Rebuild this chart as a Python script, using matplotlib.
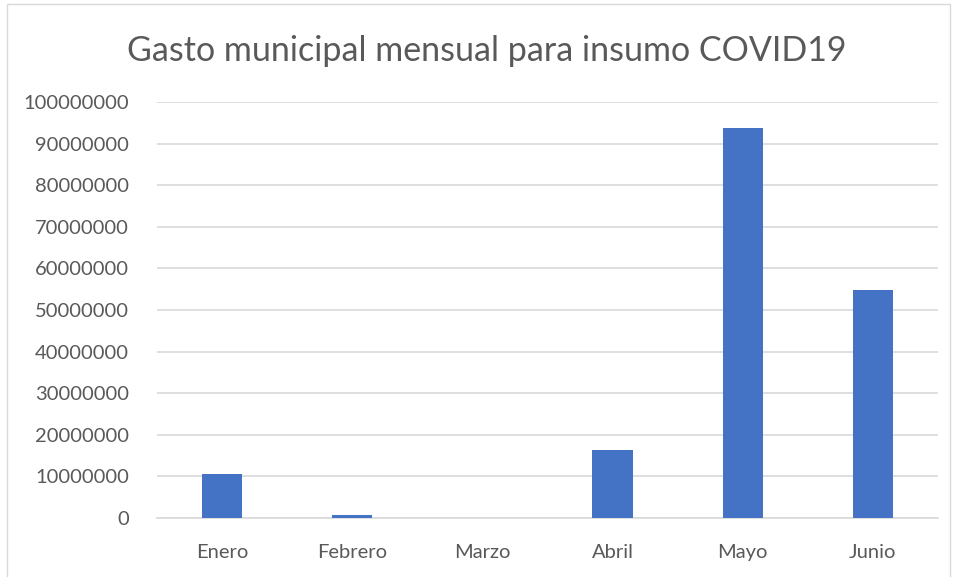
import matplotlib.pyplot as plt
from matplotlib.patches import Rectangle
from matplotlib.ticker import MultipleLocator, FuncFormatter

# data
meses = ['Enero', 'Febrero', 'Marzo', 'Abril', 'Mayo', 'Junio']
gasto = [10500000, 800000, 60000, 16400000, 93700000, 54700000]

plt.rcParams['font.family'] = ['Lato', 'DejaVu Sans']

fig = plt.figure(figsize=(9.54, 5.77), dpi=100)
ax = fig.add_axes([157/954, 59/577, (938-157)/954, (518-102)/577])

# chart border like excel
fig.patches.append(Rectangle((7/954, -0.01), (950-7)/954, 1 - 4/577 + 0.01,
                             transform=fig.transFigure, fill=False,
                             edgecolor='#d9d9d9', linewidth=1))

x = range(len(meses))
ax.bar(x, gasto, width=0.31, color='#4472c4', zorder=3)

ax.set_xlim(-0.5, len(meses) - 0.5)
ax.set_ylim(0, 100000000)
ax.yaxis.set_major_locator(MultipleLocator(10000000))
ax.yaxis.set_major_formatter(FuncFormatter(lambda v, p: '%d' % v))
ax.grid(axis='y', color='#d9d9d9', linewidth=1.2, zorder=0)
ax.set_xticks(list(x))
ax.set_xticklabels(meses)

for s in ['top', 'right', 'left']:
    ax.spines[s].set_visible(False)
ax.spines['bottom'].set_color('#d9d9d9')
ax.spines['bottom'].set_linewidth(1.2)
ax.tick_params(axis='both', length=0, labelsize=14.5, labelcolor='#595959')
ax.tick_params(axis='y', pad=20)
ax.tick_params(axis='x', pad=19)

fig.text(487/954, 1 - 51/577, 'Gasto municipal mensual para insumo COVID19',
         ha='center', va='center', fontsize=24.5, color='#595959')

fig.savefig('out.png', dpi=100)
